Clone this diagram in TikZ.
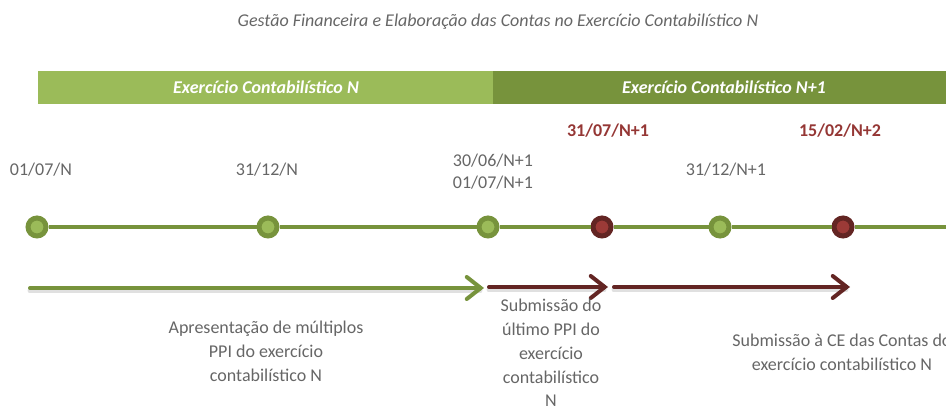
\documentclass[tikz,border=0pt]{standalone}
\usepackage{fontspec}
\setmainfont{Carlito}
\usetikzlibrary{arrows.meta}
\definecolor{lgreen}{HTML}{9BBB59}
\definecolor{dgreen}{HTML}{77933C}
\definecolor{dred}{HTML}{632523}
\definecolor{mred}{HTML}{9C3A37}
\definecolor{txt}{HTML}{666666}
\definecolor{redtxt}{HTML}{953735}
\tikzset{
  gdot/.style={circle,draw=dgreen,fill=lgreen,line width=5pt,minimum size=18pt,inner sep=0pt},
  rdot/.style={circle,draw=dred,fill=mred,line width=5pt,minimum size=18pt,inner sep=0pt},
  datelbl/.style={text=txt,font=\fontsize{18}{22}\selectfont,align=center,inner sep=0pt},
  reddate/.style={text=redtxt,font=\fontsize{18}{20}\selectfont\bfseries,inner sep=0pt},
  desc/.style={text=txt,font=\fontsize{18}{23.8}\selectfont,align=center,inner sep=0pt},
  barlbl/.style={text=white,font=\fontsize{18}{20}\selectfont\bfseries\itshape,inner sep=0pt},
  tarrow/.style={line width=4pt,-{Straight Barb[length=14pt,width=22pt,line cap=round]},line cap=round},
  shad/.style={line width=5pt,draw=black,opacity=0.12,line cap=round}
}
\begin{document}
\begin{tikzpicture}[x=1pt,y=-1pt]
\useasboundingbox (0,0) rectangle (946,406);
\clip (0,0) rectangle (946,406);
% title
\node[text=txt,font=\fontsize{18}{20}\selectfont\itshape,inner sep=0pt] (title) at (498,22) {Gestão Financeira e Elaboração das Contas no Exercício Contabilístico N};
% bars
\fill[lgreen] (38,71) rectangle (493,104);
\fill[dgreen] (493,71) rectangle (950,104);
\node[barlbl] (barN) at (266,87.5) {Exercício Contabilístico N};
\node[barlbl] (barN1) at (724,87.5) {Exercício Contabilístico N+1};
% timeline
\coordinate (tend) at (950,227);
\node[gdot] (d1) at (37,227) {};
\node[gdot] (d2) at (268,227) {};
\node[gdot] (d3) at (488,227) {};
\node[rdot] (d4) at (602,227) {};
\node[gdot] (d5) at (720,227) {};
\node[rdot] (d6) at (843,227) {};
\draw[dgreen,line width=4.5pt] (d1) -- (d2);
\draw[dgreen,line width=4.5pt] (d2) -- (d3);
\draw[dgreen,line width=4.5pt] (d3) -- (d4);
\draw[dgreen,line width=4.5pt] (d4) -- (d5);
\draw[dgreen,line width=4.5pt] (d5) -- (d6);
\draw[dgreen,line width=4.5pt] (d6) -- (tend);
% date labels
\node[datelbl] (l1) at (41,170) {01/07/N};
\node[datelbl] (l2) at (267,170) {31/12/N};
\node[datelbl] (l3) at (493,172) {30/06/N+1\\01/07/N+1};
\node[datelbl] (l5) at (726,170) {31/12/N+1};
\node[reddate] (r1) at (608,131) {31/07/N+1};
\node[reddate] (r2) at (840,131) {15/02/N+2};
% arrows
\coordinate (a1s) at (30,288);
\coordinate (a1e) at (484,288);
\coordinate (a2s) at (489,287);
\coordinate (a2e) at (608,287);
\coordinate (a3s) at (614,287);
\coordinate (a3e) at (850,287);
\draw[shad] ([yshift=-3pt]a1s) -- ([yshift=-3pt,xshift=-4pt]a1e);
\draw[shad] ([yshift=-3pt]a2s) -- ([yshift=-3pt,xshift=-4pt]a2e);
\draw[shad] ([yshift=-3pt]a3s) -- ([yshift=-3pt,xshift=-4pt]a3e);
\draw[tarrow,dgreen] (a1s) -- (a1e);
\draw[tarrow,dred] (a2s) -- (a2e);
\draw[tarrow,dred] (a3s) -- (a3e);
% descriptions
\node[desc,anchor=north] (t1) at (266,321) {Apresentação de múltiplos\\PPI do exercício\\contabilístico N};
\node[desc,anchor=north] (t2) at (551,299) {Submissão do\\último PPI do\\exercício\\contabilístico\\N};
\node[desc,anchor=north] (t3) at (842,334) {Submissão à CE das Contas do\\exercício contabilístico N};
\end{tikzpicture}
\end{document}
